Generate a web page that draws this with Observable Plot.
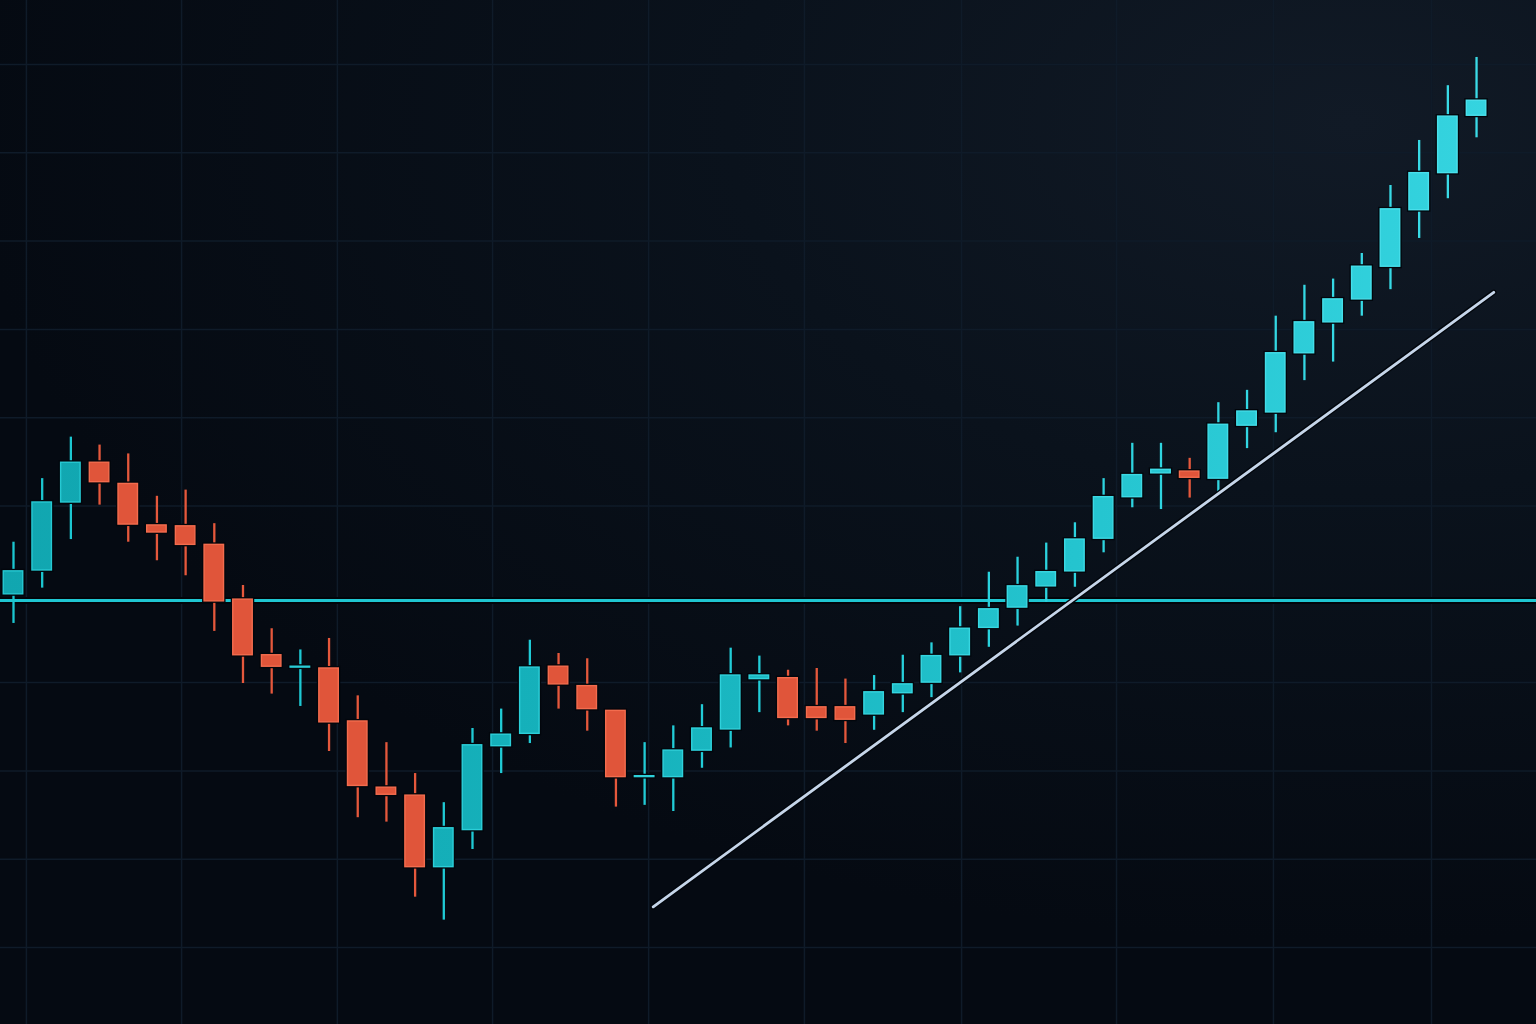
<!DOCTYPE html>
<html><head><meta charset="utf-8">
<script src="https://cdn.jsdelivr.net/npm/d3@7"></script>
<script src="https://cdn.jsdelivr.net/npm/@observablehq/plot@0.6"></script>
<style>html,body{margin:0;padding:0;background:#070d16;overflow:hidden}#chart svg{display:block}</style>
</head><body><div id="chart"></div>
<script>
// OHLC prices (one candle per session, index 0..51)
const openP  = [100.0,102.7,110.4,114.9,112.5,107.8,107.7,105.6,99.4,93.1,91.7,91.6,85.6,78.1,77.2,69.1,73.3,82.8,84.2,91.8,89.6,86.8,79.3,79.3,82.3,84.7,90.4,90.5,87.2,87.2,86.4,88.8,90.0,93.1,96.2,98.5,100.9,102.6,106.3,111.0,113.7,113.9,113.1,119.1,120.6,127.3,130.8,133.4,137.1,143.5,147.7,154.2];
const closeP = [102.6,110.4,114.9,112.7,107.9,107.0,105.6,99.2,93.1,91.8,91.8,85.5,78.3,77.3,69.1,73.5,82.9,84.1,91.7,89.8,87.0,79.3,79.4,82.3,84.8,90.8,90.8,86.0,86.0,85.8,88.9,89.8,93.0,96.1,98.3,100.9,102.5,106.2,111.0,113.5,114.1,113.2,119.2,120.7,127.3,130.8,133.4,137.1,143.6,147.7,154.1,155.9];
const highP  = [105.9,113.1,117.8,116.9,115.9,111.1,111.8,108.0,101.0,96.1,93.7,95.0,88.5,83.2,79.7,76.4,84.8,87.0,94.8,93.3,92.7,86.8,83.2,85.1,87.5,93.9,93.0,91.4,91.6,90.4,90.8,93.1,94.5,98.6,102.5,104.2,105.8,108.1,113.1,117.1,117.1,115.4,121.7,123.1,131.5,135.0,135.7,138.6,146.3,151.4,157.6,160.8];
const lowP   = [96.7,100.7,106.2,110.1,105.9,103.8,102.1,95.8,89.9,88.7,87.3,82.2,74.7,74.2,65.7,63.1,71.1,79.7,83.1,87.0,84.5,75.9,76.1,75.4,80.3,82.6,86.6,85.1,84.5,83.1,84.6,86.6,88.3,91.1,94.0,96.4,99.1,100.8,104.7,109.8,109.6,110.9,111.4,116.5,118.3,124.2,126.3,131.5,134.5,140.3,144.8,151.7];

// Horizontal support level and rising trend line
const supportLevel = 99.3;
const trendX = [22.3, 51.6];
const trendY = [64.6, 134.2];

// Grid tick values
const gridY = [60, 70, 80, 90, 110, 120, 130, 140, 150, 160];
const gridX = [0.45, 5.86, 11.29, 16.70, 22.14, 27.57, 33.05, 38.45, 43.92, 49.43];

const candles = openP.map((o, i) => ({i, open: o, close: closeP[i], high: highP[i], low: lowP[i], up: closeP[i] >= o}));
const ups = candles.filter(d => d.up);
const downs = candles.filter(d => !d.up);
const trend = trendX.map((x, k) => ({i: x, p: trendY[k]}));

const W = 1536, H = 1024;
const bodyX = {x1: d => d.i - 0.5, x2: d => d.i + 0.5, y1: "open", y2: "close"};

const chart = Plot.plot({
  width: W, height: H, margin: 0,
  x: {type: "linear", domain: [-0.453, 53.09], axis: null},
  y: {domain: [51.28, 167.25], axis: null},
  style: {background: "radial-gradient(ellipse 90% 80% at 88% 12%, #111a26 0%, #0a121c 45%, #050a12 100%)"},
  marks: [
    Plot.ruleX(gridX, {stroke: "#0f1b29", strokeWidth: 1.5}),
    Plot.ruleY(gridY, {stroke: "#0f1b29", strokeWidth: 1.5}),
    Plot.ruleY([supportLevel], {stroke: "#01050a", strokeWidth: 7}),
    Plot.ruleY([supportLevel], {stroke: "#1fc6d1", strokeWidth: 3}),
    // wicks
    Plot.ruleX(ups, {x: "i", y1: "low", y2: "high", stroke: "url(#upWick)", strokeWidth: 2.3}),
    Plot.ruleX(downs, {x: "i", y1: "low", y2: "high", stroke: "#e5583c", strokeWidth: 2.3}),
    // body shadows
    Plot.rect(candles, {...bodyX, insetLeft: 4.6, insetRight: 4.6, fill: "#02060c", stroke: "#02060c", strokeWidth: 4}),
    // bodies
    Plot.rect(ups, {...bodyX, insetLeft: 4.6, insetRight: 4.6, fill: "url(#upBody)", stroke: "url(#upEdge)", strokeWidth: 1.4}),
    Plot.rect(downs, {...bodyX, insetLeft: 4.6, insetRight: 4.6, fill: "#e0553a", stroke: "#f36c4e", strokeWidth: 1.4}),
    // trend line
    Plot.line(trend, {x: "i", y: "p", stroke: "#02060c", strokeWidth: 5.5, strokeLinecap: "round"}),
    Plot.line(trend, {x: "i", y: "p", stroke: "#c6d6ea", strokeWidth: 2.8, strokeLinecap: "round"})
  ]
});

const defs = d3.select(chart).insert("defs", ":first-child");
function grad(id, stops) {
  const g = defs.append("linearGradient").attr("id", id)
    .attr("gradientUnits", "userSpaceOnUse").attr("x1", 0).attr("y1", 0).attr("x2", W).attr("y2", 0);
  stops.forEach(([o, c]) => g.append("stop").attr("offset", o).attr("stop-color", c));
}
grad("upBody", [[0, "#11a6b0"], [0.4, "#16b2bc"], [0.7, "#24c4cf"], [1, "#37d6e2"]]);
grad("upEdge", [[0, "#25c8d2"], [0.5, "#2fd2dc"], [1, "#4ce2ee"]]);
grad("upWick", [[0, "#1bc6d0"], [0.5, "#22cdd8"], [1, "#3cdce8"]]);

document.getElementById("chart").appendChild(chart);
</script>
</body></html>
